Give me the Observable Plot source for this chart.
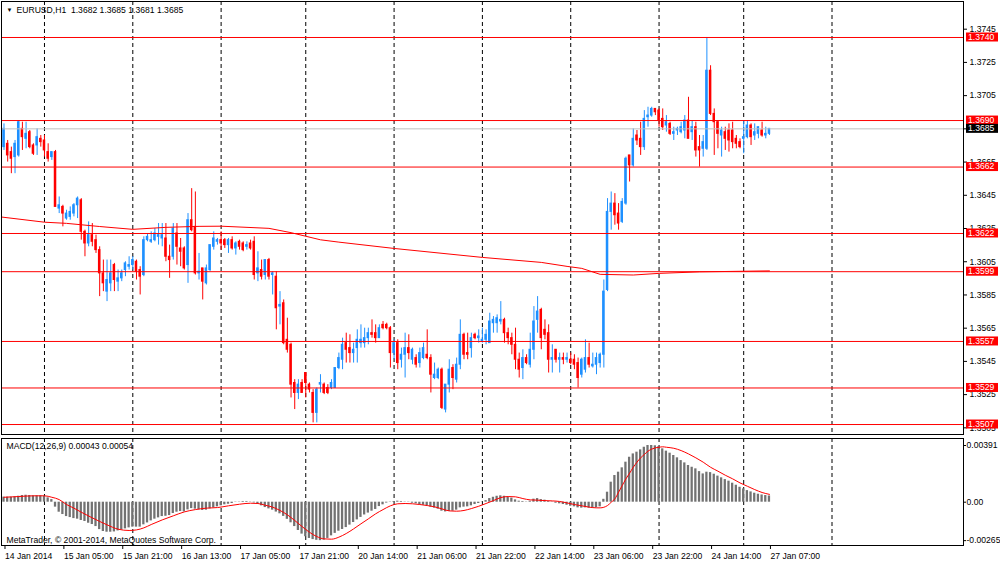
<!DOCTYPE html>
<html><head><meta charset="utf-8">
<script src="https://cdn.jsdelivr.net/npm/d3@7"></script>
<script src="https://cdn.jsdelivr.net/npm/@observablehq/plot@0.6"></script>
<style>
html,body{margin:0;padding:0;background:#fff;}
#chart{width:1000px;height:562px;position:relative;overflow:hidden;background:#fff;}
#chart svg{display:block;}
</style></head><body><div id="chart"></div>
<script>
const symbol = "EURUSD,H1";
const open = [
1.3674,1.3676,1.3671,1.3668,1.3669,1.3685,1.3679,1.3683,1.3675,1.3675,
1.3679,1.3678,1.3671,1.3668,1.3671,1.3637,1.3638,1.3631,1.3632,1.3634,
1.3639,1.3642,1.3623,1.3616,1.3621,1.3618,1.3612,1.3598,1.3587,1.3592,
1.3603,1.3593,1.3595,1.3600,1.3602,1.3603,1.3605,1.3600,1.3597,1.3618,
1.3617,1.3618,1.3620,1.3619,1.3619,1.3608,1.3608,1.3622,1.3613,1.3613,
1.3603,1.3630,1.3626,1.3598,1.3601,1.3592,1.3600,1.3614,1.3617,1.3618,
1.3618,1.3615,1.3618,1.3613,1.3617,1.3616,1.3614,1.3616,1.3617,1.3598,
1.3600,1.3597,1.3606,1.3597,1.3596,1.3578,1.3580,1.3558,1.3555,1.3532,
1.3526,1.3532,1.3538,1.3531,1.3526,1.3514,1.3531,1.3531,1.3529,1.3529,
1.3529,1.3541,1.3546,1.3556,1.3553,1.3550,1.3553,1.3556,1.3556,1.3559,
1.3562,1.3562,1.3559,1.3567,1.3567,1.3565,1.3550,1.3556,1.3546,1.3549,
1.3553,1.3546,1.3547,1.3544,1.3547,1.3549,1.3547,1.3535,1.3535,1.3540,
1.3516,1.3531,1.3541,1.3534,1.3543,1.3561,1.3550,1.3553,1.3561,1.3559,
1.3557,1.3558,1.3556,1.3568,1.3568,1.3569,1.3570,1.3562,1.3559,1.3555,
1.3546,1.3541,1.3547,1.3543,1.3552,1.3570,1.3576,1.3564,1.3562,1.3546,
1.3552,1.3546,1.3547,1.3546,1.3546,1.3546,1.3544,1.3537,1.3540,1.3547,
1.3542,1.3543,1.3544,1.3549,1.3588,1.3635,1.3640,1.3634,1.3629,1.3640,
1.3669,1.3663,1.3681,1.3679,1.3674,1.3692,1.3693,1.3697,1.3696,1.3691,
1.3687,1.3688,1.3682,1.3684,1.3683,1.3684,1.3690,1.3683,1.3686,1.3674,
1.3673,1.3673,1.3720,1.3694,1.3689,1.3681,1.3683,1.3684,1.3684,1.3679,
1.3677,1.3679,1.3680,1.3687,1.3681,1.3682,1.3684,1.3681,1.3682];
const high = [
1.3688,1.3678,1.3674,1.3678,1.3690,1.3689,1.3689,1.3684,1.3676,1.3685,
1.3681,1.3681,1.3676,1.3671,1.3672,1.3644,1.3639,1.3636,1.3638,1.3640,
1.3644,1.3643,1.3624,1.3629,1.3628,1.3621,1.3614,1.3606,1.3606,1.3606,
1.3604,1.3600,1.3600,1.3605,1.3608,1.3608,1.3606,1.3602,1.3620,1.3622,
1.3623,1.3625,1.3628,1.3628,1.3628,1.3615,1.3628,1.3628,1.3619,1.3614,
1.3634,1.3649,1.3647,1.3610,1.3601,1.3603,1.3615,1.3623,1.3619,1.3623,
1.3619,1.3619,1.3620,1.3617,1.3618,1.3617,1.3617,1.3618,1.3620,1.3611,
1.3606,1.3606,1.3607,1.3599,1.3599,1.3587,1.3582,1.3571,1.3556,1.3534,
1.3534,1.3534,1.3538,1.3532,1.3528,1.3529,1.3537,1.3532,1.3531,1.3534,
1.3541,1.3550,1.3559,1.3562,1.3561,1.3556,1.3564,1.3567,1.3565,1.3565,
1.3570,1.3567,1.3567,1.3569,1.3568,1.3566,1.3558,1.3558,1.3553,1.3562,
1.3561,1.3553,1.3549,1.3553,1.3556,1.3564,1.3549,1.3544,1.3541,1.3541,
1.3531,1.3546,1.3543,1.3547,1.3570,1.3562,1.3562,1.3562,1.3562,1.3564,
1.3565,1.3564,1.3574,1.3572,1.3573,1.3581,1.3571,1.3565,1.3562,1.3565,
1.3550,1.3552,1.3549,1.3562,1.3578,1.3584,1.3577,1.3570,1.3567,1.3555,
1.3552,1.3550,1.3550,1.3550,1.3550,1.3549,1.3547,1.3547,1.3558,1.3556,
1.3550,1.3550,1.3550,1.3594,1.3643,1.3647,1.3646,1.3640,1.3643,1.3668,
1.3669,1.3685,1.3684,1.3689,1.3696,1.3698,1.3698,1.3697,1.3697,1.3697,
1.3693,1.3689,1.3686,1.3686,1.3689,1.3693,1.3704,1.3690,1.3689,1.3681,
1.3681,1.3740,1.3723,1.3697,1.3690,1.3686,1.3686,1.3688,1.3689,1.3681,
1.3679,1.3690,1.3690,1.3688,1.3688,1.3686,1.3689,1.3686,1.3685];
const low = [
1.3672,1.3665,1.3658,1.3658,1.3668,1.3672,1.3673,1.3673,1.3669,1.3669,
1.3674,1.3668,1.3665,1.3666,1.3638,1.3634,1.3626,1.3630,1.3630,1.3632,
1.3631,1.3618,1.3608,1.3614,1.3614,1.3610,1.3584,1.3587,1.3581,1.3587,
1.3587,1.3587,1.3593,1.3596,1.3600,1.3600,1.3594,1.3585,1.3596,1.3617,
1.3616,1.3617,1.3615,1.3614,1.3605,1.3595,1.3606,1.3603,1.3602,1.3600,
1.3592,1.3623,1.3597,1.3594,1.3582,1.3591,1.3599,1.3612,1.3615,1.3612,
1.3613,1.3610,1.3612,1.3609,1.3612,1.3611,1.3612,1.3612,1.3594,1.3593,
1.3594,1.3594,1.3594,1.3585,1.3564,1.3567,1.3555,1.3550,1.3523,1.3516,
1.3522,1.3526,1.3523,1.3526,1.3508,1.3508,1.3526,1.3525,1.3525,1.3528,
1.3529,1.3540,1.3540,1.3544,1.3544,1.3544,1.3544,1.3553,1.3553,1.3555,
1.3559,1.3556,1.3559,1.3564,1.3564,1.3541,1.3546,1.3540,1.3541,1.3535,
1.3546,1.3543,1.3541,1.3541,1.3546,1.3546,1.3526,1.3534,1.3534,1.3516,
1.3514,1.3526,1.3528,1.3532,1.3540,1.3546,1.3546,1.3547,1.3558,1.3556,
1.3556,1.3555,1.3556,1.3562,1.3562,1.3567,1.3556,1.3555,1.3549,1.3540,
1.3535,1.3534,1.3543,1.3541,1.3546,1.3562,1.3552,1.3558,1.3538,1.3538,
1.3544,1.3538,1.3543,1.3544,1.3543,1.3540,1.3529,1.3535,1.3538,1.3541,
1.3541,1.3537,1.3541,1.3541,1.3587,1.3624,1.3627,1.3624,1.3628,1.3639,
1.3653,1.3662,1.3675,1.3669,1.3672,1.3686,1.3692,1.3693,1.3686,1.3684,
1.3683,1.3681,1.3678,1.3681,1.3682,1.3679,1.3679,1.3678,1.3668,1.3662,
1.3668,1.3672,1.3693,1.3669,1.3673,1.3668,1.3672,1.3671,1.3673,1.3673,
1.3673,1.3670,1.3679,1.3675,1.3678,1.3679,1.3680,1.3679,1.3681];
const close = [
1.3685,1.3669,1.3667,1.3676,1.3689,1.3680,1.3682,1.3674,1.3670,1.3680,
1.3677,1.3672,1.3667,1.3671,1.3638,1.3639,1.3634,1.3634,1.3635,1.3639,
1.3643,1.3623,1.3616,1.3621,1.3617,1.3612,1.3598,1.3592,1.3594,1.3598,
1.3594,1.3595,1.3598,1.3604,1.3603,1.3606,1.3599,1.3596,1.3618,1.3620,
1.3618,1.3622,1.3621,1.3621,1.3608,1.3606,1.3625,1.3614,1.3611,1.3601,
1.3630,1.3624,1.3598,1.3599,1.3593,1.3601,1.3615,1.3619,1.3618,1.3616,
1.3615,1.3618,1.3613,1.3616,1.3614,1.3612,1.3615,1.3613,1.3597,1.3601,
1.3596,1.3606,1.3596,1.3598,1.3577,1.3579,1.3556,1.3552,1.3531,1.3526,
1.3531,1.3526,1.3532,1.3528,1.3514,1.3528,1.3532,1.3526,1.3526,1.3532,
1.3541,1.3547,1.3555,1.3552,1.3550,1.3552,1.3558,1.3558,1.3559,1.3562,
1.3561,1.3559,1.3565,1.3565,1.3565,1.3550,1.3556,1.3544,1.3549,1.3553,
1.3550,1.3552,1.3543,1.3550,1.3553,1.3547,1.3537,1.3537,1.3540,1.3517,
1.3531,1.3540,1.3535,1.3543,1.3561,1.3549,1.3549,1.3559,1.3559,1.3560,
1.3558,1.3561,1.3569,1.3570,1.3571,1.3570,1.3562,1.3559,1.3555,1.3546,
1.3540,1.3547,1.3544,1.3552,1.3569,1.3575,1.3559,1.3561,1.3546,1.3547,
1.3546,1.3547,1.3546,1.3547,1.3544,1.3543,1.3535,1.3546,1.3547,1.3543,
1.3543,1.3547,1.3549,1.3587,1.3635,1.3640,1.3633,1.3628,1.3641,1.3667,
1.3663,1.3679,1.3678,1.3674,1.3691,1.3693,1.3697,1.3695,1.3690,1.3686,
1.3689,1.3682,1.3683,1.3685,1.3686,1.3690,1.3679,1.3686,1.3672,1.3672,
1.3677,1.3720,1.3694,1.3689,1.3682,1.3684,1.3679,1.3678,1.3677,1.3676,
1.3674,1.3680,1.3687,1.3680,1.3683,1.3686,1.3681,1.3682,1.3685];

// 200-period moving average, read at sample bars
const maBar = [-1, 11, 17, 26, 35, 44, 53, 59, 72, 78, 86, 91, 106, 130, 146, 153, 157, 162, 171, 178, 189, 208];
const maVal = [1.36320, 1.36288, 1.36281, 1.36262, 1.36245, 1.36257, 1.36263, 1.36264, 1.36251, 1.36225, 1.36182, 1.36168, 1.36130, 1.36076, 1.36046, 1.36022, 1.36010, 1.35974, 1.35970, 1.35980, 1.35989, 1.35995];

// MACD main (histogram) per bar
const macd = [
0.00035,0.00035,0.00035,0.00037,0.00041,0.00046,0.00048,0.00046,0.00044,0.00044,
0.00044,0.00041,0.00030,0.00018,-0.00034,-0.00069,-0.00085,-0.00099,-0.00106,-0.00113,
-0.00117,-0.00126,-0.00133,-0.00145,-0.00154,-0.00168,-0.00189,-0.00202,-0.00207,-0.00207,
-0.00205,-0.00198,-0.00191,-0.00184,-0.00177,-0.00172,-0.00172,-0.00172,-0.00156,-0.00143,
-0.00129,-0.00117,-0.00108,-0.00099,-0.00097,-0.00092,-0.00078,-0.00069,-0.00064,-0.00067,
-0.00053,-0.00044,-0.00048,-0.00053,-0.00057,-0.00055,-0.00046,-0.00039,-0.00032,-0.00025,
-0.00018,-0.00014,-0.00009,-0.00002,0.00002,0.00005,0.00005,0.00002,-0.00005,-0.00014,
-0.00025,-0.00037,-0.00046,-0.00055,-0.00068,-0.00080,-0.00098,-0.00118,-0.00142,-0.00168,
-0.00195,-0.00220,-0.00238,-0.00250,-0.00258,-0.00263,-0.00265,-0.00262,-0.00250,-0.00232,
-0.00215,-0.00200,-0.00188,-0.00175,-0.00158,-0.00140,-0.00122,-0.00105,-0.00088,-0.00075,
-0.00062,-0.00050,-0.00030,-0.00018,-0.00006,0.00002,0.00005,0.00007,0.00005,0.00002,
-0.00002,-0.00007,-0.00011,-0.00016,-0.00021,-0.00025,-0.00034,-0.00041,-0.00048,-0.00062,
-0.00067,-0.00064,-0.00062,-0.00055,-0.00039,-0.00034,-0.00032,-0.00025,-0.00016,-0.00009,
0.00002,0.00011,0.00025,0.00034,0.00041,0.00044,0.00041,0.00034,0.00028,0.00016,
0.00007,0.00005,0.00002,0.00007,0.00021,0.00025,0.00018,0.00014,0.00005,-0.00002,
-0.00007,-0.00011,-0.00016,-0.00021,-0.00028,-0.00032,-0.00039,-0.00041,-0.00039,-0.00041,
-0.00041,-0.00039,-0.00032,0.00020,0.00069,0.00138,0.00184,0.00207,0.00237,0.00276,
0.00310,0.00333,0.00345,0.00361,0.00379,0.00391,0.00391,0.00389,0.00384,0.00368,
0.00352,0.00338,0.00322,0.00306,0.00287,0.00271,0.00253,0.00241,0.00230,0.00211,
0.00195,0.00207,0.00204,0.00193,0.00180,0.00168,0.00156,0.00145,0.00131,0.00117,
0.00103,0.00092,0.00080,0.00071,0.00062,0.00055,0.00050,0.00046,0.00043];

// MACD signal line, read at sample bars
const sigBar = [0,4,8,11,13,15,17,19,21,24,28,31,34,36,38,40,43,46,49,52,55,58,61,64,67,69,71,73,75,77,79,81,83,85,87,89,91,93,95,97,99,101,103,105,107,109,111,113,115,117,119,121,123,125,127,129,131,133,135,137,139,141,143,145,147,149,151,153,155,157,159,161,162,164,165,166,167,168,169,170,171,172,173,174,175,176,177,178,179,180,182,184,186,188,190,192,194,196,198,200,202,204,206,208];
const sigVal = [0.00034,0.00039,0.00044,0.00044,0.00034,0.00018,-0.00016,-0.00041,-0.00069,-0.00108,-0.00156,-0.00186,-0.00195,-0.00191,-0.00177,-0.00154,-0.00122,-0.00094,-0.00067,-0.00051,-0.00041,-0.00037,-0.00025,-0.00014,-0.00007,-0.00009,-0.00021,-0.00034,-0.00057,-0.00087,-0.00126,-0.00168,-0.00207,-0.00237,-0.00253,-0.00255,-0.00241,-0.00216,-0.00184,-0.00149,-0.00115,-0.00080,-0.00051,-0.00025,-0.00011,-0.00009,-0.00011,-0.00016,-0.00023,-0.00032,-0.00046,-0.00060,-0.00062,-0.00057,-0.00044,-0.00028,-0.00009,0.00011,0.00032,0.00039,0.00037,0.00025,0.00016,0.00014,0.00011,0.00009,0.00005,-0.00005,-0.00016,-0.00025,-0.00034,-0.00039,-0.00039,-0.00023,0.00000,0.00023,0.00069,0.00115,0.00161,0.00200,0.00241,0.00276,0.00306,0.00329,0.00352,0.00366,0.00375,0.00379,0.00382,0.00379,0.00372,0.00356,0.00333,0.00306,0.00276,0.00241,0.00214,0.00186,0.00161,0.00133,0.00110,0.00087,0.00067,0.00054];

// horizontal levels, bid, day separators, ticks
const levels = [1.3740, 1.3690, 1.3662, 1.3622, 1.3599, 1.3557, 1.3529, 1.3507];
const bid = 1.3685;
const dayStartBars = [11, 35, 59, 82, 106, 130, 154, 178, 201, 225];
const priceTicks = [1.3745, 1.3725, 1.3705, 1.3685, 1.3665, 1.3645, 1.3625, 1.3605, 1.3585, 1.3565, 1.3545, 1.3525, 1.3505];
const macdTicks = [0.00391, 0, -0.00265];
const timeBars = [0,16,32,48,64,80,96,112,128,144,160,176,192,208];
const timeLabels = ["14 Jan 2014","15 Jan 05:00","15 Jan 21:00","16 Jan 13:00","17 Jan 05:00","17 Jan 21:00","20 Jan 14:00","21 Jan 06:00","21 Jan 22:00","22 Jan 14:00","23 Jan 06:00","23 Jan 22:00","24 Jan 14:00","27 Jan 07:00"];
const copyright = "MetaTrader, \u00a9 2001-2014, MetaQuotes Software Corp.";

// ---- build ----
const bars = open.map((o, i) => ({i, o, h: high[i], l: low[i], c: close[i]}));
const maPts = maBar.map((b, k) => ({b, v: maVal[k]}));
const hist = macd.map((v, i) => ({i, v}));
const sigPts = sigBar.map((b, k) => ({b, v: sigVal[k]}));
const timeMap = new Map(timeBars.map((b, k) => [b, timeLabels[k]]));
const f4 = d3.format(".4f");
const FONT = "'Liberation Sans', Arial, sans-serif";
const FS = 8.6;
const BULL = "#1E90FF", BEAR = "#FF0000";
const xDomain = [-0.679, 260.73];
const last = bars[bars.length - 1];
const header = `${symbol}\u00a0\u00a0${f4(last.o)} ${f4(last.h)} ${f4(last.l)} ${f4(last.c)}`;
const macdLabel = `MACD(12,26,9) ${macd[macd.length-1].toFixed(5)} ${sigVal[sigVal.length-1].toFixed(5)}`;

const main = Plot.plot({
  width: 1000, height: 437,
  marginLeft: 1, marginRight: 37, marginTop: 1, marginBottom: 3,
  style: {fontFamily: FONT, fontSize: FS + "px", background: "#fff", color: "#000", overflow: "visible"},
  x: {domain: xDomain, axis: null, label: null},
  y: {domain: [1.350099, 1.376167], axis: null, label: null},
  color: {type: "identity"},
  marks: [
    Plot.ruleX(dayStartBars, {stroke: "#000", strokeDasharray: "4,3", strokeWidth: 1}),
    Plot.ruleX(bars, {x: "i", y1: "l", y2: "h", stroke: d => d.c >= d.o ? BULL : BEAR, strokeWidth: 1}),
    Plot.rect(bars, {x1: d => d.i - 0.34, x2: d => d.i + 0.34, y1: "o", y2: "c",
      fill: d => d.c >= d.o ? BULL : BEAR, insetTop: -0.5, insetBottom: -0.5}),
    Plot.line(maPts, {x: "b", y: "v", stroke: "#FF0000", strokeWidth: 1, clip: true}),
    Plot.ruleY([bid], {stroke: "#C0C0C0", strokeWidth: 1}),
    Plot.ruleY(levels, {stroke: "#FF0000", strokeWidth: 1}),
    Plot.frame({stroke: "#000"}),
    Plot.axisY({anchor: "right", label: null, ticks: priceTicks, tickFormat: f4, tickSize: 3, tickPadding: 3, fontSize: FS}),
    Plot.text(["\u25BC"], {frameAnchor: "top-left", dx: 5, dy: 6, fontSize: 6, fill: "#000"}),
    Plot.text([header], {frameAnchor: "top-left", dx: 15, dy: 5, fontSize: FS, fill: "#000"})
  ]
});

const sub = Plot.plot({
  width: 1000, height: 125,
  marginLeft: 1, marginRight: 37, marginTop: 1, marginBottom: 17,
  style: {fontFamily: FONT, fontSize: FS + "px", background: "#fff", color: "#000", overflow: "visible"},
  x: {domain: xDomain, axis: null, label: null},
  y: {domain: [-0.002986, 0.004393], axis: null, label: null},
  marks: [
    Plot.ruleX(dayStartBars, {stroke: "#000", strokeDasharray: "4,3", strokeWidth: 1}),
    Plot.rect(hist, {x1: d => d.i - 0.31, x2: d => d.i + 0.31, y1: () => 0, y2: "v", fill: "#727272"}),
    Plot.line(sigPts, {x: "b", y: "v", stroke: "#FF0000", strokeWidth: 1, curve: "monotone-x"}),
    Plot.frame({stroke: "#000"}),
    Plot.axisY({anchor: "right", label: null, ticks: macdTicks, tickFormat: d => d === 0 ? "0.00" : d.toFixed(5), tickSize: 2, tickPadding: 1, fontSize: FS}),
    Plot.axisX({anchor: "bottom", label: null, ticks: timeBars, tickFormat: d => timeMap.get(d), tickSize: 4, tickPadding: 3, textAnchor: "start", dx: 1, fontSize: FS}),
    Plot.text([macdLabel], {frameAnchor: "top-left", dx: 5, dy: 4, fontSize: FS, fill: "#000"}),
    Plot.text([copyright], {frameAnchor: "bottom-left", dx: 5, dy: -3, fontSize: FS, fill: "#000"})
  ]
});

// price labels on the right axis (boxes) placed with the plot's own y scale
const ys = main.scale("y");
const svg = d3.select(main);
function tag(v, bg) {
  const y = ys.apply(v);
  svg.append("rect").attr("x", 966).attr("y", y - 4.5).attr("width", 32).attr("height", 9).attr("fill", bg);
  svg.append("text").attr("x", 968).attr("y", y).attr("dy", "0.34em").attr("text-anchor", "start")
    .attr("fill", "#fff").attr("font-family", FONT).attr("font-size", FS).text(f4(v));
}
levels.forEach(v => tag(v, "#FF0000"));
tag(bid, "#000");

const root = document.getElementById("chart");
root.appendChild(main);
root.appendChild(sub);
</script>
</body></html>
